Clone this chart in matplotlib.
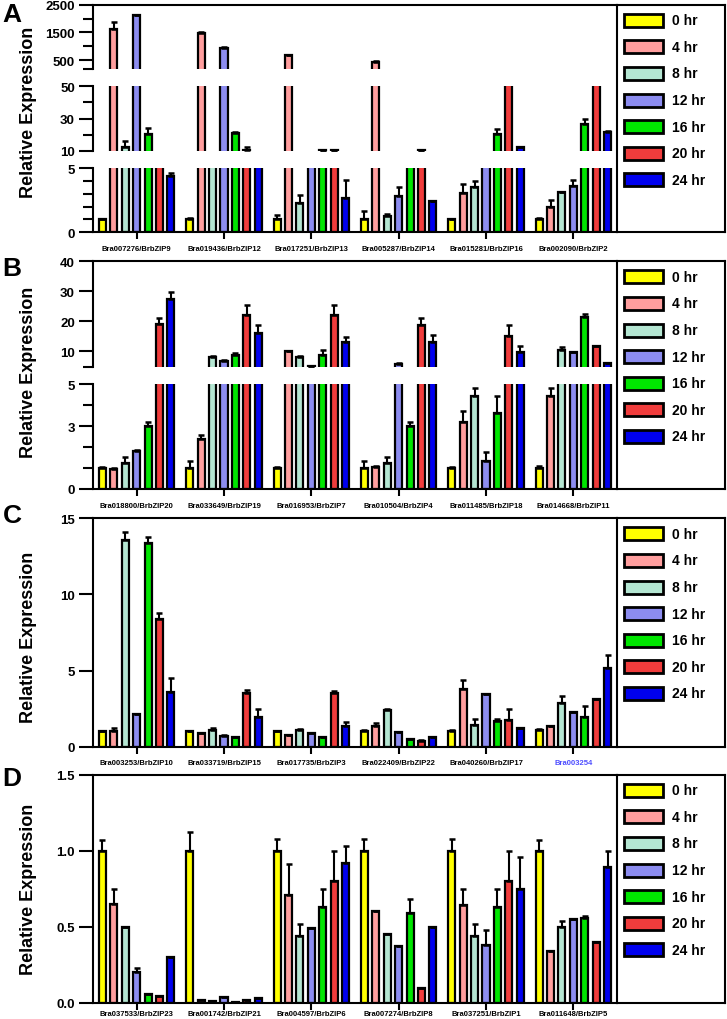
import matplotlib
matplotlib.use('Agg')
import matplotlib.pyplot as plt
from matplotlib.patches import Rectangle
import numpy as np

plt.rcParams['font.family'] = ['Liberation Sans', 'DejaVu Sans']
plt.rcParams['font.weight'] = 'bold'

times = ['0 hr', '4 hr', '8 hr', '12 hr', '16 hr', '20 hr', '24 hr']
colors = ['#FFFF00', '#FF9E9E', '#B4E6D2', '#8C8CF0', '#00E600', '#F03C3C', '#0000EE']

# panel A (rows = time points, columns = genes)
genes_a = ['Bra007276/BrbZIP9', 'Bra019436/BrbZIP12', 'Bra017251/BrbZIP13',
           'Bra005287/BrbZIP14', 'Bra015281/BrbZIP16', 'Bra002090/BrbZIP2']
mean_a = [[1.0, 1.0, 1.0, 1.05, 1.0, 1.0],
          [1620, 1480, 680, 440, 3.05, 2.0],
          [12.5, 7.0, 2.3, 1.3, 3.55, 3.1],
          [2110, 920, 7.5, 2.8, 7.5, 3.6],
          [20.4, 20.8, 10.3, 7.5, 20.4, 26.5],
          [7.5, 10.3, 10.2, 10.3, 100, 100],
          [4.4, 7.0, 2.7, 2.4, 12.1, 21.9]]
err_a = [[0.05, 0.15, 0.35, 0.6, 0.05, 0.15],
         [240, 20, 15, 20, 0.7, 0.5],
         [3.5, 0, 0.6, 0.1, 0.45, 0.05],
         [30, 50, 0, 0.7, 0, 0.45],
         [3.6, 1.0, 0.4, 0, 3.1, 3.1],
         [0, 2.2, 0.2, 0.3, 0, 0],
         [0.2, 0, 1.35, 0.05, 0.5, 0.3]]

# panel B
genes_b = ['Bra018800/BrbZIP20', 'Bra033649/BrbZIP19', 'Bra016953/BrbZIP7',
           'Bra010504/BrbZIP4', 'Bra011485/BrbZIP18', 'Bra014668/BrbZIP11']
mean_b = [[1.0, 1.0, 1.0, 1.0, 1.0, 1.0],
          [0.95, 2.38, 10.0, 1.06, 3.17, 4.44],
          [1.25, 8.2, 8.2, 1.25, 4.44, 10.4],
          [1.82, 6.7, 5.15, 5.8, 1.35, 9.7],
          [3.0, 8.9, 8.9, 3.0, 3.62, 21.5],
          [19.1, 22.2, 22.2, 18.9, 15.2, 11.7],
          [27.4, 16.3, 13.3, 13.3, 9.7, 6.1]]
err_b = [[0.03, 0.35, 0.03, 0.35, 0.05, 0.1],
         [0.03, 0.21, 0.3, 0.03, 0.56, 0.35],
         [0.29, 0.3, 0.3, 0.29, 0.35, 1.1],
         [0.03, 0.3, 0.1, 0.3, 0.4, 0.2],
         [0.17, 0.5, 1.5, 0.17, 0.82, 0.9],
         [1.9, 3.2, 3.2, 2.2, 3.7, 0.1],
         [2.5, 2.5, 1.6, 2.2, 2.0, 0.1]]

# panel C
genes_c = ['Bra003253/BrbZIP10', 'Bra033719/BrbZIP15', 'Bra017735/BrbZIP3',
           'Bra022409/BrbZIP22', 'Bra040260/BrbZIP17', 'Bra003254']
mean_c = [[1.0, 1.0, 1.0, 1.0, 1.0, 1.1],
          [1.05, 0.87, 0.77, 1.33, 3.8, 1.33],
          [13.6, 1.1, 1.1, 2.43, 1.45, 2.85],
          [2.14, 0.72, 0.87, 0.94, 3.45, 2.25],
          [13.35, 0.61, 0.61, 0.5, 1.66, 1.93],
          [8.38, 3.52, 3.52, 0.35, 1.75, 3.13],
          [3.6, 1.97, 1.33, 0.61, 1.23, 5.2]]
err_c = [[0.02, 0.02, 0.02, 0.1, 0.1, 0.05],
         [0.15, 0.02, 0.02, 0.2, 0.6, 0.02],
         [0.5, 0.1, 0.07, 0.02, 0.35, 0.45],
         [0.02, 0.02, 0.05, 0.05, 0.02, 0.05],
         [0.45, 0.02, 0.02, 0.02, 0.14, 0.77],
         [0.4, 0.18, 0.13, 0.07, 0.72, 0.03],
         [0.9, 0.5, 0.27, 0.05, 0.02, 0.84]]

# panel D
genes_d = ['Bra037533/BrbZIP23', 'Bra001742/BrbZIP21', 'Bra004597/BrbZIP6',
           'Bra007274/BrbZIP8', 'Bra037251/BrbZIP1', 'Bra011648/BrbZIP5']
mean_d = [[1.0, 1.0, 1.0, 1.0, 1.0, 1.0],
          [0.65, 0.02, 0.71, 0.605, 0.64, 0.34],
          [0.5, 0.01, 0.44, 0.45, 0.44, 0.5],
          [0.2, 0.04, 0.49, 0.37, 0.38, 0.55],
          [0.057, 0.005, 0.63, 0.59, 0.63, 0.56],
          [0.042, 0.02, 0.80, 0.10, 0.80, 0.40],
          [0.30, 0.03, 0.92, 0.50, 0.75, 0.89]]
err_d = [[0.07, 0.12, 0.08, 0.08, 0.08, 0.07],
         [0.1, 0, 0.2, 0, 0.11, 0],
         [0, 0, 0.08, 0, 0.08, 0.04],
         [0.03, 0, 0, 0, 0.1, 0],
         [0, 0, 0.12, 0.09, 0.12, 0.01],
         [0, 0, 0.2, 0, 0.2, 0],
         [0, 0, 0.11, 0, 0.21, 0.11]]

W, H = 727, 1020
fig = plt.figure(figsize=(W / 100, H / 100), dpi=100)

X0, X1, XL = 93, 617, 725
STEP = 0.1306
BW = 0.081


def box(l, t, r, b):
    return [l / W, 1 - b / H, (r - l) / W, (b - t) / H]


def draw_bars(ax, mean, err, lo):
    n = len(mean[0])
    x = np.arange(n)
    for j in range(len(mean)):
        xs = x + (j - 3) * STEP
        m = np.array(mean[j], dtype=float)
        e = np.array(err[j], dtype=float)
        # in an upper segment of a broken axis, skip marks that end below it
        h = np.where(m > lo, m, 0.0) if lo > 0 else m
        ax.bar(xs, h, width=BW, color=colors[j], edgecolor='black', linewidth=1.6, zorder=2)
        ye = np.where(m + e > lo, m, np.nan) if lo > 0 else m
        ax.errorbar(xs, ye, yerr=[np.zeros(n), e], fmt='none', ecolor='black',
                    elinewidth=1.5, capsize=2.2, capthick=1.8, zorder=3)
    ax.set_xlim(-0.5, n - 0.5)


def panel(mean, err, genes, segs, top, bottom, letter, ylab_y, letter_y,
          xpad=4, blue_last=False):
    for k, (lo, hi, t, b, major, labels, minor) in enumerate(segs):
        ax = fig.add_axes(box(X0, t, X1, b))
        draw_bars(ax, mean, err, lo)
        ax.set_ylim(lo, hi)
        for s in ['top', 'right', 'bottom']:
            ax.spines[s].set_visible(False)
        ax.spines['left'].set_linewidth(1.5)
        if k == 0:
            ax.spines['top'].set_visible(True)
            ax.spines['top'].set_linewidth(1.5)
        ax.set_yticks(major)
        ax.set_yticklabels(labels, fontsize=9.5, fontweight='bold')
        ax.set_yticks(minor, minor=True)
        ax.tick_params(axis='y', which='major', direction='out', length=10, width=1.5, pad=3)
        ax.tick_params(axis='y', which='minor', direction='out', length=7, width=1.5)
        if k == len(segs) - 1:
            ax.spines['bottom'].set_visible(True)
            ax.spines['bottom'].set_linewidth(1.5)
            ax.set_xticks(range(len(genes)))
            ax.set_xticklabels(genes, fontsize=5.5, fontweight='bold')
            ax.tick_params(axis='x', direction='out', length=5, width=1.5, pad=xpad)
            if blue_last:
                ax.get_xticklabels()[-1].set_color('#4D4DFF')
        else:
            ax.set_xticks([])

    lg = fig.add_axes(box(X1, top, XL, bottom))
    lg.set_xlim(0, XL - X1)
    lg.set_ylim(bottom - top, 0)
    lg.set_xticks([])
    lg.set_yticks([])
    for s in lg.spines.values():
        s.set_linewidth(1.5)
    for i, name in enumerate(times):
        yc = 15.5 + i * 26.6
        lg.add_patch(Rectangle((7, yc - 6.5), 39, 13, facecolor=colors[i],
                               edgecolor='black', linewidth=2))
        lg.text(55, yc, name, va='center', ha='left', fontsize=10, fontweight='bold')

    fig.text(29 / W, 1 - ylab_y / H, 'Relative Expression', rotation=90, ha='center',
             va='center', fontsize=13, fontweight='bold')
    fig.text(12 / W, 1 - letter_y / H, letter, ha='center', va='center',
             fontsize=19, fontweight='bold')


segs_a = [(175, 2500, 5.7, 70, [500, 1500, 2500], ['500', '1500', '2500'], [175, 1000, 2000]),
          (10, 50, 87.3, 151.7, [10, 30, 50], ['10', '30', '50'], [20, 40]),
          (0, 5, 169, 233.3, [0, 5], ['0', '5'], [1, 2, 3, 4])]
panel(mean_a, err_a, genes_a, segs_a, 5.7, 233.3, 'A', 112, 15.5)

segs_b = [(5, 40, 262.3, 367.5, [10, 20, 30, 40], ['10', '20', '30', '40'], [5]),
          (0, 5, 385, 490, [0, 3, 5], ['0', '3', '5'], [1, 2, 4])]
panel(mean_b, err_b, genes_b, segs_b, 262.3, 490, 'B', 372, 269)

segs_c = [(0, 15, 519.3, 747.7, [0, 5, 10, 15], ['0', '5', '10', '15'], [])]
panel(mean_c, err_c, genes_c, segs_c, 519.3, 747.7, 'C', 637, 516, blue_last=True)

segs_d = [(0, 1.5, 775.7, 1003.7, [0, 0.5, 1.0, 1.5], ['0.0', '0.5', '1.0', '1.5'], [])]
panel(mean_d, err_d, genes_d, segs_d, 775.7, 1003.7, 'D', 889, 779, xpad=0.3)

fig.savefig('out.png', dpi=100)
